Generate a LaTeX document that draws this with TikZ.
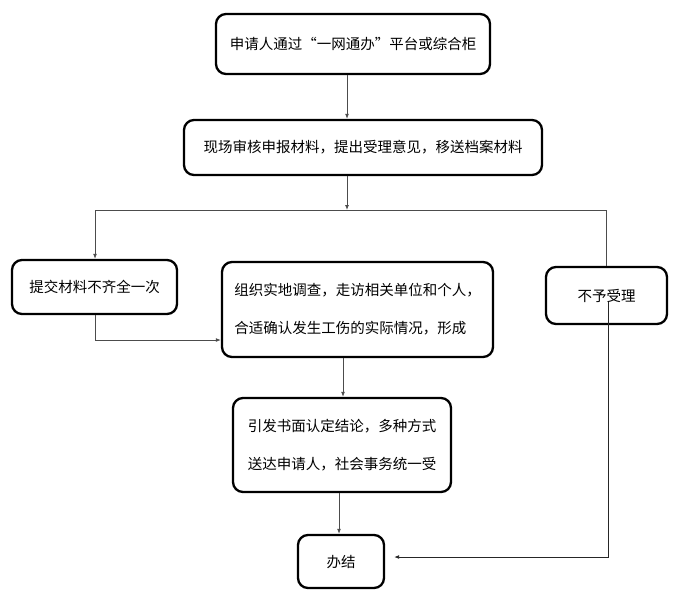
\documentclass[tikz,border=0pt]{standalone}
\usepackage{fontspec}
\setmainfont{Noto Sans CJK SC}
\usetikzlibrary{arrows.meta}
\tikzset{
  box/.style={draw=black, line width=2.3pt, rounded corners=10pt, fill=white,
    align=center, inner sep=0pt, font=\fontsize{14.5}{38}\selectfont},
  line/.style={draw=black!70, line width=0.9pt},
  arr/.style={line, -{Latex[length=5pt,width=4pt]}}
}
\begin{document}
\begin{tikzpicture}[x=1pt, y=-1pt]
  \useasboundingbox (0,0) rectangle (684,600);
  % boxes
  \node[box, minimum width=274pt, minimum height=60pt] (apply) at (353,44)
    {申请人通过“一网通办”平台或综合柜};
  \node[box, minimum width=358pt, minimum height=55pt] (review) at (363,147.5)
    {现场审核申报材料，提出受理意见，移送档案材料};
  \node[box, minimum width=165pt, minimum height=54pt] (incomplete) at (94.5,287)
    {提交材料不齐全一次};
  \node[box, align=left, minimum width=271pt, minimum height=95pt] (investigate) at (357.5,309.5)
    {组织实地调查，走访相关单位和个人，\\合适确认发生工伤的实际情况，形成};
  \node[box, minimum width=121pt, minimum height=57pt] (notaccept) at (606.5,295.5)
    {不予受理};
  \node[box, minimum width=218pt, minimum height=94pt] (conclude) at (342,445)
    {引发书面认定结论，多种方式\\送达申请人，社会事务统一受};
  \node[box, minimum width=86pt, minimum height=53pt] (finish) at (341,561.5)
    {办结};
  % branch points
  \coordinate (split) at (347,210);
  \coordinate (lefttop) at (95,210);
  \coordinate (righttop) at (606,210);
  \coordinate (back) at (95,340);
  \coordinate (reject) at (608,302);
  \coordinate (down1) at (343,0);
  \coordinate (down2) at (339,0);
  \coordinate (backrow) at (0,557);
  % connectors
  \draw[arr] (apply.south -| split) -- (review.north -| split);
  \draw[arr] (review.south -| split) -- (split);
  \draw[line] (lefttop) -- (righttop) -- (righttop |- notaccept.north);
  \draw[arr] (lefttop) -- (lefttop |- incomplete.north);
  \draw[arr] (lefttop |- incomplete.south) -- (back) -- (investigate.west |- back);
  \draw[arr] (investigate.south -| down1) -- (conclude.north -| down1);
  \draw[arr] (conclude.south -| down2) -- (finish.north -| down2);
  \draw[arr, draw=black!85, shorten >=9pt] (reject) |- (finish.east |- backrow);
\end{tikzpicture}
\end{document}
